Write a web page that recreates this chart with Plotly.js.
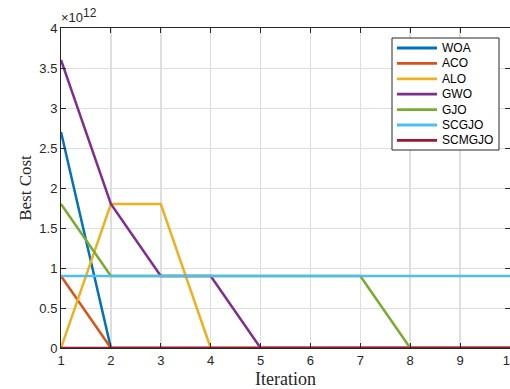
<!DOCTYPE html>
<html><head><meta charset="utf-8">
<script src="https://cdn.plot.ly/plotly-3.0.1.min.js"></script>
<style>html,body{margin:0;padding:0;background:#fff;}#chart{width:510px;height:389px;}</style>
</head><body><div id="chart"></div>
<script>
var iterations = [1,2,3,4,5,6,7,8,9,10];
var WOA    = [2.7e12,0,0,0,0,0,0,0,0,0];
var ACO    = [0.9e12,0,0,0,0,0,0,0,0,0];
var ALO    = [0,1.8e12,1.8e12,0,0,0,0,0,0,0];
var GWO    = [3.6e12,1.8e12,0.9e12,0.9e12,0,0,0,0,0,0];
var GJO    = [1.8e12,0.9e12,0.9e12,0.9e12,0.9e12,0.9e12,0.9e12,0,0,0];
var SCGJO  = [0.9e12,0.9e12,0.9e12,0.9e12,0.9e12,0.9e12,0.9e12,0.9e12,0.9e12,0.9e12];
var SCMGJO = [0,0,0,0,0,0,0,0,0,0];
var names = ['WOA','ACO','ALO','GWO','GJO','SCGJO','SCMGJO'];
var series = [WOA,ACO,ALO,GWO,GJO,SCGJO,SCMGJO];
var colors = ['#0072BD','#D95319','#EDB120','#7E2F8E','#77AC30','#4DBEEE','#A2142F'];
var yTickVals = [0,0.5e12,1e12,1.5e12,2e12,2.5e12,3e12,3.5e12,4e12];
var yTickText = ['0','0.5','1','1.5','2','2.5','3','3.5','4'];

var W = 510, H = 389, ML = 61, MR = 0, MT = 28, MB = 41;
var PW = W - ML - MR, PH = H - MT - MB;
function px(x){ return (x - ML) / PW; }
function py(y){ return (H - MB - y) / PH; }

var traces = series.map(function(s,i){
  return {x: iterations, y: s, name: names[i], type:'scatter', mode:'lines',
    line:{color: colors[i], width: 2.5}, showlegend:false};
});

// custom legend box (MATLAB style, compact rows)
var shapes = [{type:'rect', xref:'paper', yref:'paper', x0:px(392), x1:px(499), y0:py(38), y1:py(150),
  line:{color:'#262626', width:1}, fillcolor:'#fff', layer:'above'}];
var annotations = [{text:'\u00d710<sup><span style="font-size:12px">12</span></sup>', xref:'paper', yref:'paper', x:px(59), y:py(27), xanchor:'left', yanchor:'bottom',
    showarrow:false, font:{size:13, color:'#262626'}}];
var rowTop = 48, rowStep = 15.4;
names.forEach(function(n,i){
  var yc = rowTop + i*rowStep;
  shapes.push({type:'line', xref:'paper', yref:'paper', x0:px(397), x1:px(437), y0:py(yc), y1:py(yc),
    line:{color:colors[i], width:2.8}, layer:'above'});
  annotations.push({text:n, xref:'paper', yref:'paper', x:px(440), y:py(yc), xanchor:'left', yanchor:'middle',
    showarrow:false, font:{size:12, color:'#000'}});
});

var layout = {
  width:W, height:H,
  margin:{l:ML, r:MR, t:MT, b:MB},
  paper_bgcolor:'#fff', plot_bgcolor:'#fff',
  font:{family:'Liberation Sans, Arial, sans-serif', size:13, color:'#262626'},
  showlegend:false,
  xaxis:{range:[1,10], tickvals:iterations, ticks:'inside', ticklen:5, tickcolor:'#262626',
    showline:true, linecolor:'#262626', linewidth:1, mirror:'allticks',
    showgrid:true, gridcolor:'#dedede', gridwidth:1.5, zeroline:false,
    tickfont:{size:13}, ticklabeloverflow:'allow',
    title:{text:'Iteration', font:{family:'Liberation Serif, Times New Roman, serif', size:18, color:'#262626'}, standoff:6}},
  yaxis:{range:[0,4e12], tickvals:yTickVals, ticktext:yTickText, ticks:'inside', ticklen:5, tickcolor:'#262626',
    showline:true, linecolor:'#262626', linewidth:1, mirror:'allticks',
    showgrid:true, gridcolor:'#dedede', gridwidth:1, zeroline:false,
    tickfont:{size:13},
    title:{text:'Best Cost', font:{family:'Liberation Serif, Times New Roman, serif', size:17, color:'#262626'}, standoff:3}},
  shapes: shapes,
  annotations: annotations
};
Plotly.newPlot('chart', traces, layout, {displayModeBar:false, staticPlot:true});
</script></body></html>
